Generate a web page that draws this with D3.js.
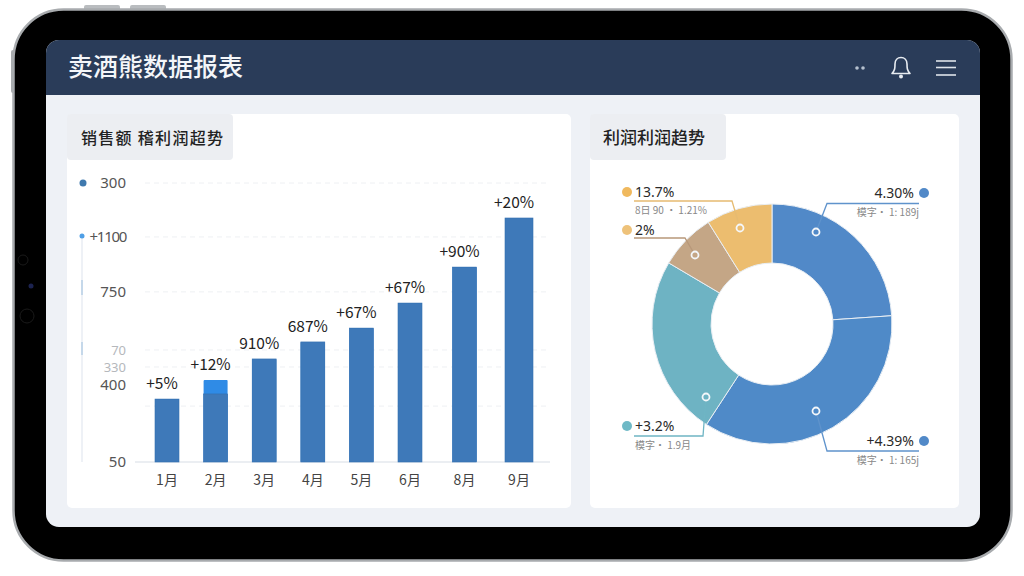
<!DOCTYPE html>
<html><head><meta charset="utf-8">
<script src="https://cdn.jsdelivr.net/npm/d3@7/dist/d3.min.js"></script>
<style>
html,body{margin:0;padding:0;background:#fff;overflow:hidden}
svg{display:block}
text{font-family:"Noto Sans CJK SC","Noto Sans",sans-serif}
</style></head><body><svg id="c" width="1024" height="576"></svg>
<script>
// ---- data ----
const months = ["1月","2月","3月","4月","5月","6月","8月","9月"];
const barValues = [309,387,474,544,601,704,852,1054];
const barBaseValues = [309,330,474,544,601,704,852,1054];
const barLabels = ["+5%","+12%","910%","687%","+67%","+67%","+90%","+20%"];
const tickValues = [50,367,441,511,750,976,1198];
const tickLabels = ["50","400","330","70","750","+1100","300"];
const gridValues = [280,441,511,750,976,1198];
const pieNames = ["a","b","c","d","e"];
const pieValues = [23.9,35.3,24.3,7.6,8.9];
const calloutTexts = ["4.30%","+4.39%","+3.2%","2%","13.7%"];
const calloutSubs = ["模字· 1: 189j","模字· 1: 165j","模字· 1.9月","","8日 90 · 1.21%"];
const titleMain = "卖酒熊数据报表";
const titleLeft = "销售额  稽利润超势";
const titleRight = "利润利润趋势";

// ---- styling / layout ----
const pieColors = ["#5189c8","#4f8ac8","#6eb3c3","#c4a686","#ecbd6f"];
const dotColors = ["#5189c8","#5189c8","#6fb9c6","#eec27a","#f0b95e"];
const lineColors = ["#5f93cc","#5f93cc","#6fb5c4","#b8987a","#e6bb72"];
const calloutLayout = [
  {side:"r",dx:924,dy:193,ly:203.5,bend:827,rx:816,ry:232,subY:216},
  {side:"r",dx:924,dy:441,ly:451,bend:827,rx:816,ry:411,subY:464},
  {side:"l",dx:627,dy:426,ly:436,bend:703,rx:706,ry:397,subY:449},
  {side:"l",dx:627,dy:230,ly:238,bend:685,rx:695,ry:255,subY:0},
  {side:"l",dx:627,dy:192,ly:201,bend:732,rx:740,ry:228,subY:214}
];
const svg = d3.select("#c");
const rr = (x,y,w,h,r,f,extra={}) => {
  const s = svg.append("rect").attr("x",x).attr("y",y).attr("width",w).attr("height",h).attr("rx",r).attr("fill",f);
  Object.entries(extra).forEach(([k,v])=>s.attr(k,v)); return s;
};
// device
rr(84,5,36,6,2,"#b9bcbf"); rr(130,5,36,6,2,"#b9bcbf"); rr(11,50,6,43,2,"#a9acaf");
rr(13.5,9.5,998,551,50,"#000",{stroke:"#a8abae","stroke-width":2.5});
svg.append("circle").attr("cx",31).attr("cy",286).attr("r",2.5).attr("fill","#1c2350");
svg.append("circle").attr("cx",23).attr("cy",260).attr("r",5).attr("fill","none").attr("stroke","#1a1a1a");
svg.append("circle").attr("cx",27).attr("cy",316).attr("r",7).attr("fill","none").attr("stroke","#1a1a1a");
// screen
rr(46,40,934,487,13,"#eef1f6");
svg.append("path").attr("fill","#2a3c59").attr("d","M46,95V53a13,13 0 0 1 13,-13H967a13,13 0 0 1 13,13V95Z");
svg.append("text").attr("x",68).attr("y",76).attr("fill","#f4f6f9").attr("font-size",25).attr("font-weight",500).text(titleMain);
svg.selectAll(".hd").data([857,863]).join("circle").attr("cx",d=>d).attr("cy",68).attr("r",1.8).attr("fill","#b6c1cf");
svg.append("path").attr("fill","none").attr("stroke","#e8ecf1").attr("stroke-width",1.6).attr("stroke-linejoin","round")
  .attr("d","M892,73.5H910C907,70 907,68 907,64C907,60 904.5,57.5 901,57.5C897.5,57.5 895,60 895,64C895,68 895,70 892,73.5Z");
svg.append("circle").attr("cx",901).attr("cy",76.5).attr("r",2).attr("fill","#e8ecf1");
svg.selectAll(".mn").data([61,67.5,75]).join("line").attr("x1",936).attr("x2",956).attr("y1",d=>d).attr("y2",d=>d).attr("stroke","#dfe4ea").attr("stroke-width",1.6);
// cards
rr(67,114,504,394,5,"#fff"); rr(590,114,369,394,5,"#fff");
rr(67,114,166,46,4,"#eceef2"); rr(590,114,136,46,4,"#eceef2");
svg.append("text").attr("x",81).attr("y",144).attr("fill","#222").attr("font-size",16).attr("font-weight",500).text(titleLeft).attr("textLength",142);
svg.append("text").attr("x",603).attr("y",144).attr("fill","#222").attr("font-size",17).attr("font-weight",500).text(titleRight);

// bar chart
const y = d3.scaleLinear().domain([50,1198]).range([462,183]);
const idx = d3.scaleLinear().domain([0,5,7]).range([167,410,519]);
const bw = d3.scaleLinear().domain([0,6,7]).range([24,24,28]);
svg.append("line").attr("x1",82).attr("x2",82).attr("y1",236).attr("y2",462).attr("stroke","#e8edf3").attr("stroke-width",1.5);
[[280,295],[342,355]].forEach(s=>svg.append("line").attr("x1",82).attr("x2",82).attr("y1",s[0]).attr("y2",s[1]).attr("stroke","#c5d8ea").attr("stroke-width",2));
svg.append("circle").attr("cx",83).attr("cy",183).attr("r",3.5).attr("fill","#3f79ae");
svg.append("circle").attr("cx",82).attr("cy",236).attr("r",2.5).attr("fill","#4f9fe6");
svg.selectAll(".g").data(gridValues).join("line").attr("x1",145).attr("x2",550).attr("y1",d=>y(d)).attr("y2",d=>y(d))
  .attr("stroke","#eef0f3").attr("stroke-dasharray","5 4");
svg.append("line").attr("x1",135).attr("x2",550).attr("y1",y(50)).attr("y2",y(50)).attr("stroke","#e4e8ee").attr("stroke-width",1.5);
const ax = svg.append("g").attr("transform","translate(126,0)")
  .call(d3.axisLeft(y).tickValues(tickValues).tickSize(0).tickPadding(0).tickFormat((d,i)=>tickLabels[i]));
ax.select(".domain").remove();
ax.selectAll("text").style("font-family",'"Noto Sans","Noto Sans CJK SC",sans-serif')
  .attr("font-size",(d,i)=>(i==2||i==3)?13:15)
  .attr("letter-spacing",(d,i)=>i==5?-1.3:0)
  .attr("fill",(d,i)=>(i==2||i==3)?"#b5b8bc":"#555");
svg.selectAll(".bar").data(barValues).join("rect").attr("x",(d,i)=>idx(i)-bw(i)/2).attr("width",(d,i)=>bw(i))
  .attr("y",(d,i)=>y(d)).attr("height",d=>y(50)-y(d)).attr("fill","#2f8be6").attr("rx",1);
svg.selectAll(".bar2").data(barBaseValues).join("rect").attr("x",(d,i)=>idx(i)-bw(i)/2).attr("width",(d,i)=>bw(i))
  .attr("y",(d,i)=>y(d)).attr("height",d=>y(50)-y(d)).attr("fill","#3e79b9").attr("stroke","#3570b0").attr("stroke-width",.6);
svg.selectAll(".bl").data(barLabels).join("text").attr("x",(d,i)=>idx(i)-5).attr("y",(d,i)=>y(barValues[i])-10)
  .attr("text-anchor","middle").attr("font-size",15.5).attr("fill","#222").text(d=>d);
svg.selectAll(".ml").data(months).join("text").attr("x",(d,i)=>idx(i)).attr("y",485)
  .attr("text-anchor","middle").attr("font-size",14).attr("fill","#444").text(d=>d);

// donut
const arc = d3.arc().innerRadius(61).outerRadius(120);
const pie = d3.pie().sort(null).value(d=>d);
const dg = svg.append("g").attr("transform","translate(772,324)");
dg.selectAll("path").data(pie(pieValues)).join("path").attr("d",arc).attr("fill",(d,i)=>pieColors[i])
  .attr("stroke","#e8eef4").attr("stroke-width",1);
// callouts
calloutLayout.forEach((c,i)=>{
  svg.append("path").attr("fill","none").attr("stroke",lineColors[i]).attr("stroke-width",1.3)
    .attr("d",d3.line()([[c.side=="r"?919:634,c.ly],[c.bend,c.ly],[c.rx,c.ry]]));
  svg.append("circle").attr("cx",c.rx).attr("cy",c.ry).attr("r",3.5).attr("fill",pieColors[i]).attr("stroke","#f4f7fa").attr("stroke-width",1.8);
  svg.append("circle").attr("cx",c.dx).attr("cy",c.dy).attr("r",5).attr("fill",dotColors[i]);
  svg.append("text").attr("x",c.side=="r"?914:635).attr("y",c.dy+5).attr("text-anchor",c.side=="r"?"end":"start")
    .attr("font-size",14).attr("fill","#2a2a2a").style("font-family",'"Noto Sans","Noto Sans CJK SC",sans-serif').text(calloutTexts[i]);
  if(calloutSubs[i]) svg.append("text").attr("x",c.side=="r"?919:635).attr("y",c.subY).attr("text-anchor",c.side=="r"?"end":"start")
    .attr("font-size",10).attr("fill","#888").text(calloutSubs[i]);
});
</script></body></html>
